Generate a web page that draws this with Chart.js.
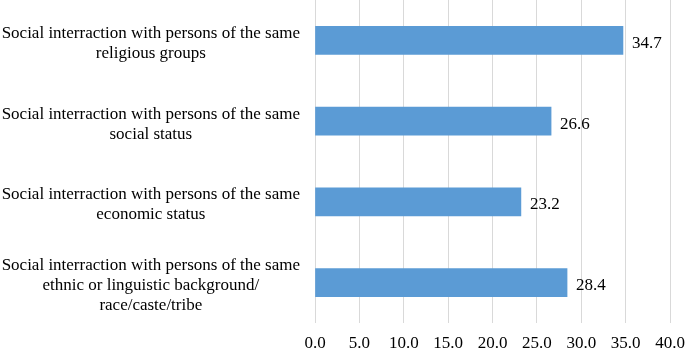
<!DOCTYPE html>
<html>
<head>
<meta charset="utf-8">
<script src="https://cdn.jsdelivr.net/npm/chart.js@4/dist/chart.umd.min.js"></script>
<style>
  html, body { margin: 0; padding: 0; background: #fff; }
  #wrap { width: 685px; height: 350px; }
</style>
</head>
<body>
<div id="wrap"><canvas id="plot-bars"></canvas></div>
<script>
let categories = [
    ["Social interraction with persons of the same", "religious groups"],
    ["Social interraction with persons of the same", "social status"],
    ["Social interraction with persons of the same", "economic status"],
    ["Social interraction with persons of the same", "ethnic or linguistic background/", "race/caste/tribe"]
];
let values = [34.7, 26.6, 23.2, 28.4];
let xTicks = [0, 5, 10, 15, 20, 25, 30, 35, 40];

var serif = '"Liberation Serif", "Times New Roman", serif';

// writes the value next to the end of each bar
var valueLabels = {
    id: 'valueLabels',
    afterDatasetsDraw: function(chart) {
        var ctx = chart.ctx;
        var meta = chart.getDatasetMeta(0);
        ctx.save();
        ctx.font = '17px ' + serif;
        ctx.fillStyle = '#000';
        ctx.textBaseline = 'middle';
        ctx.textAlign = 'left';
        meta.data.forEach(function(bar, i) {
            ctx.fillText(values[i].toFixed(1), bar.x + 9, bar.y + 3);
        });
        ctx.restore();
    }
};

var ctx = document.getElementById('plot-bars').getContext('2d');

var graph = new Chart(ctx, {
    type: 'bar',
    data: {
        labels: categories,
        datasets: [{
            data: values,
            backgroundColor: '#5b9bd5',
            borderWidth: 0,
            barThickness: 28
        }]
    },
    options: {
        indexAxis: 'y',
        responsive: true,
        maintainAspectRatio: false,
        animation: false,
        layout: {
            padding: { left: 0, right: 0, top: 0, bottom: 0 }
        },
        plugins: {
            legend: { display: false },
            tooltip: { enabled: false }
        },
        scales: {
            x: {
                min: 0,
                max: 40,
                afterBuildTicks: function(axis) {
                    axis.ticks = xTicks.map(function(v) { return { value: v }; });
                },
                afterFit: function(axis) {
                    axis.height = 27;
                    axis.paddingRight = 15;
                },
                grid: {
                    color: '#d9d9d9',
                    drawTicks: false
                },
                border: { display: false },
                ticks: {
                    padding: 10,
                    color: '#000',
                    font: { family: serif, size: 17 },
                    callback: function(value) {
                        return Number(value).toFixed(1);
                    }
                }
            },
            y: {
                afterFit: function(axis) {
                    axis.width = 315;
                    axis.paddingTop = 0;
                    axis.paddingBottom = 0;
                },
                grid: { display: false, drawTicks: false },
                border: { display: false },
                ticks: {
                    padding: 15,
                    labelOffset: 3,
                    crossAlign: 'center',
                    color: '#000',
                    font: { family: serif, size: 17, lineHeight: 1.18 }
                }
            }
        }
    },
    plugins: [valueLabels]
});
</script>
</body>
</html>
